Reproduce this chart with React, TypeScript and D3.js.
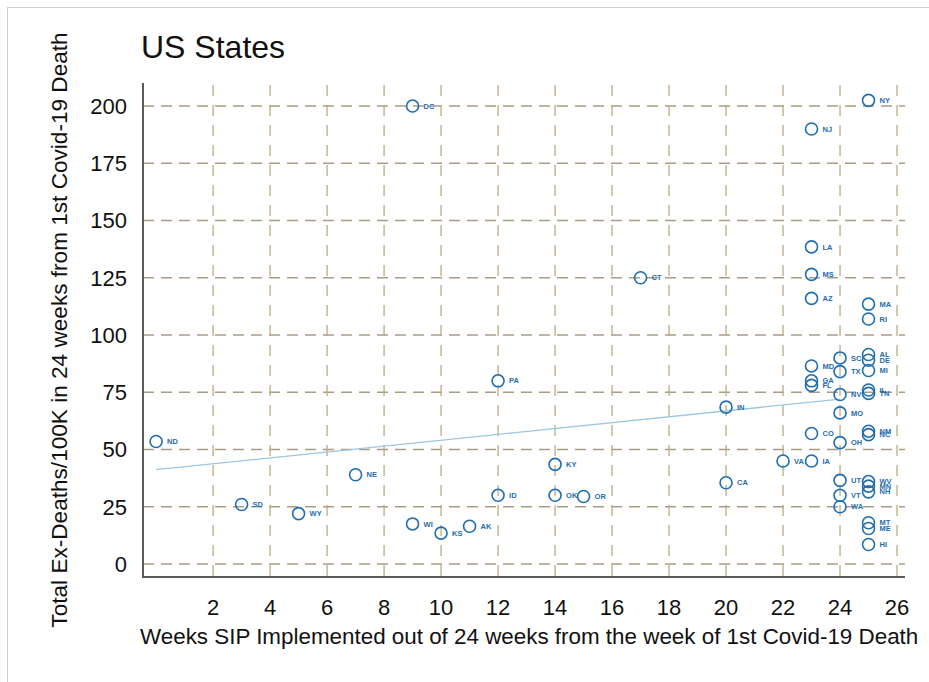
import * as d3 from 'd3';

const states = ['ND', 'SD', 'WY', 'NE', 'DC', 'WI', 'KS', 'AK', 'PA', 'ID', 'KY', 'OK', 'OR', 'CT', 'IN', 'CA', 'VA',
  'IA', 'NJ', 'LA', 'MS', 'AZ', 'MD', 'GA', 'FL', 'CO',
  'SC', 'TX', 'NV', 'MO', 'OH', 'UT', 'VT', 'WA',
  'NY', 'MA', 'RI', 'AL', 'DE', 'MI', 'IL', 'TN', 'NM', 'NC', 'WV', 'MN', 'NH', 'MT', 'ME', 'HI'];
const weeksSIP = [0, 3, 5, 7, 9, 9, 10, 11, 12, 12, 14, 14, 15, 17, 20, 20, 22,
  23, 23, 23, 23, 23, 23, 23, 23, 23,
  24, 24, 24, 24, 24, 24, 24, 24,
  25, 25, 25, 25, 25, 25, 25, 25, 25, 25, 25, 25, 25, 25, 25, 25];
const exDeaths = [53.5, 26, 22, 39, 200, 17.5, 13.5, 16.5, 80, 30, 43.5, 30, 29.5, 125, 68.5, 35.5, 45,
  45, 190, 138.5, 126.5, 116, 86.5, 80, 78, 57,
  90, 84, 74, 66, 53, 36.5, 30, 25,
  202.5, 113.5, 107, 91.5, 89, 84.5, 76, 74.5, 58, 56.5, 36, 34, 31.5, 18, 15.5, 8.5];

const trendX = [0, 24];
const trendY = [41.2, 72];

const xTicks = [2, 4, 6, 8, 10, 12, 14, 16, 18, 20, 22, 24, 26];
const yTicks = [0, 25, 50, 75, 100, 125, 150, 175, 200];

const W = 929;
const H = 682;
const left = 143;
const right = 905;
const top = 85;
const bottom = 577;

const x = d3.scaleLinear().domain([-0.46, 26.28]).range([left, right]);
const y = d3.scaleLinear().domain([-5.68, 209.2]).range([bottom, top]);

const blue = '#1f6db0';
const font = 'Liberation Sans, Arial, Helvetica, sans-serif';

export default function App() {
  const line = d3.line<number>()
    .x((d, i) => x(trendX[i]))
    .y(d => y(d));

  return (
    <div style={{ position: 'fixed', left: 0, top: 0 }}>
      <svg width={W} height={H} style={{ display: 'block', background: '#fff', fontFamily: font }}>
        <rect x={7.5} y={7.5} width={W} height={H} fill="none" stroke="#cfcfcf" strokeWidth={1} />

        <text x={141} y={58} fontSize={32} fill="#111">US States</text>

        {yTicks.map(t => (
          <line key={'hy' + t} x1={left} x2={right} y1={y(t)} y2={y(t)}
            stroke="#a89d84" strokeWidth={1.4} strokeDasharray="11,7" />
        ))}
        {xTicks.map(t => (
          <line key={'vx' + t} x1={x(t)} x2={x(t)} y1={top} y2={bottom}
            stroke="#b9ad82" strokeWidth={1.3} strokeDasharray="11,9" />
        ))}

        <line x1={left} x2={left} y1={top - 2} y2={bottom + 1} stroke="#5a5a5a" strokeWidth={2} />
        <line x1={left - 1} x2={right} y1={bottom} y2={bottom} stroke="#5a5a5a" strokeWidth={2} />

        {yTicks.map(t => (
          <text key={'ly' + t} x={127} y={y(t)} dy="0.36em" textAnchor="end" fontSize={22} fill="#111">{t}</text>
        ))}
        {xTicks.map(t => (
          <text key={'lx' + t} x={x(t)} y={615} textAnchor="middle" fontSize={22} fill="#111">{t}</text>
        ))}

        <text x={140} y={644} fontSize={22.4} fill="#111">
          Weeks SIP Implemented out of 24 weeks from the week of 1st Covid-19 Death
        </text>
        <text transform="translate(67,330) rotate(-90)" textAnchor="middle" fontSize={22.6} fill="#111">
          Total Ex-Deaths/100K in 24 weeks from 1st Covid-19 Death
        </text>

        <path d={line(trendY) || ''} fill="none" stroke="#9cc7df" strokeWidth={1.3} />

        {states.map((s, i) => (
          <g key={s} transform={`translate(${x(weeksSIP[i])},${y(exDeaths[i])})`}>
            <circle r={6} fill="none" stroke={blue} strokeWidth={1.6} />
            <text x={11} dy="0.35em" fontSize={7.5} fontWeight="bold" fill={blue}>{s}</text>
          </g>
        ))}
      </svg>
    </div>
  );
}
